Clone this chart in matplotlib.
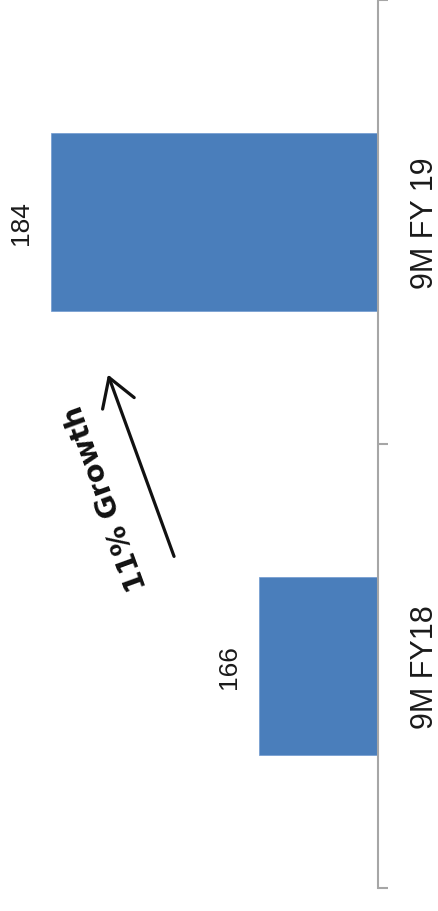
import matplotlib
matplotlib.use("Agg")
import matplotlib.pyplot as plt

# data
categories = ["9M FY18", "9M FY 19"]
values = [166, 184]
value_labels = ["166", "184"]
growth_text = "11% Growth"

BAR_COLOR = "#4A7EBB"
AXIS_COLOR = "#A6A6A6"

fig = plt.figure(figsize=(4.39, 9.12), dpi=100)
ax = fig.add_axes([0.0, 23 / 912, 378 / 439, 888 / 912])

y = list(range(len(categories)))
ax.barh(y, values, height=0.4, color=BAR_COLOR, edgecolor="#6F9AD0", linewidth=0.5)

# value axis starts well above zero and runs right-to-left
ax.set_xlim(188.41, 155.70)
ax.set_ylim(-0.5, 1.5)

for s in ["top", "bottom", "left"]:
    ax.spines[s].set_visible(False)
ax.spines["right"].set_color(AXIS_COLOR)
ax.spines["right"].set_linewidth(1.5)

ax.set_xticks([])
ax.yaxis.tick_right()
ax.set_yticks([-0.5, 0.5, 1.5])
ax.set_yticklabels([])
ax.tick_params(axis="y", which="major", length=7.5, width=1.5,
               color=AXIS_COLOR, direction="out")
ax.set_yticks(y, minor=True)
ax.set_yticklabels(categories, minor=True, rotation=90, va="center",
                   fontsize=22, family="Liberation Sans", color="#1a1a1a")
ax.tick_params(axis="y", which="minor", length=0, pad=23)

# value labels, just beyond the end of each bar
for yi, v, lab in zip(y, values, value_labels):
    ax.annotate(lab, xy=(v, yi), xytext=(-13, 0), textcoords="offset points",
                rotation=90, ha="right", va="center", fontsize=19,
                family="Liberation Sans", color="#1a1a1a")

# growth arrow
fig.patches.append(matplotlib.patches.FancyArrowPatch(
    (175 / 439, 1 - 560 / 912), (107 / 439, 1 - 373 / 912),
    transform=fig.transFigure, arrowstyle="->,head_length=0.9,head_width=0.55",
    mutation_scale=22, linewidth=2.3, color="#111111"))
fig.text(106 / 439, 1 - 498 / 912, growth_text, rotation=110,
         ha="center", va="center", rotation_mode="anchor",
         fontsize=20.5, fontweight="bold", family="DejaVu Sans", color="#111111")

fig.savefig("out.png", dpi=100)
